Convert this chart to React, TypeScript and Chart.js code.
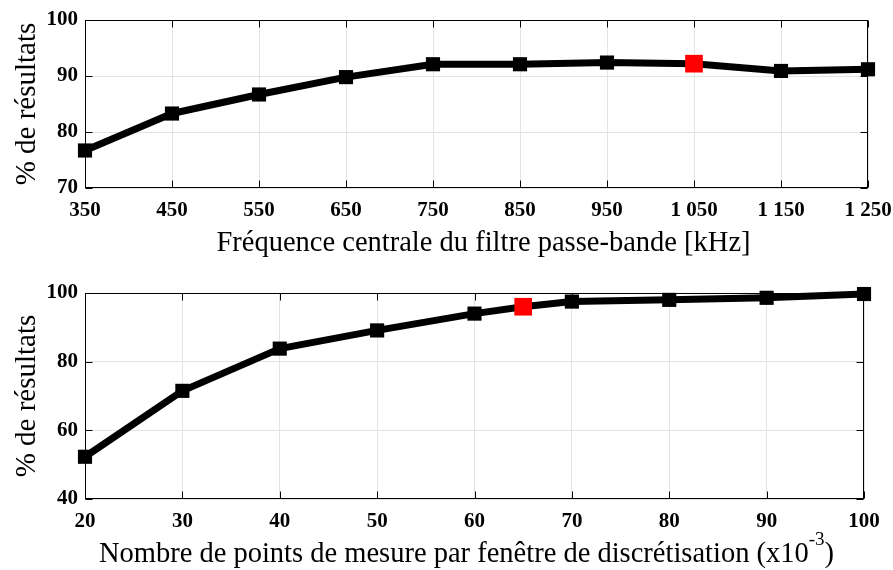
import React, { useEffect, useRef } from 'react';
import { Chart, registerables } from 'chart.js';

Chart.register(...registerables);

// ---------- data ----------
const freqKHz = [350, 450, 550, 650, 750, 850, 950, 1050, 1150, 1250];
const freqScore = [76.7, 83.3, 86.7, 89.8, 92.1, 92.1, 92.4, 92.2, 90.9, 91.2];
const freqHighlight = [1050];
const freqXTicks = [350, 450, 550, 650, 750, 850, 950, 1050, 1150, 1250];
const freqYTicks = [70, 80, 90, 100];
const freqXTitle = ['Fréquence centrale du filtre passe-bande [kHz]', '', ''];

const pointsX = [20, 30, 40, 50, 60, 65, 70, 80, 90, 100];
const pointsScore = [52.3, 71.5, 83.8, 89.1, 94.0, 96.0, 97.5, 98.0, 98.6, 99.7];
const pointsHighlight = [65];
const pointsXTicks = [20, 30, 40, 50, 60, 70, 80, 90, 100];
const pointsYTicks = [40, 60, 80, 100];
const pointsXTitle = ['Nombre de points de mesure par fenêtre de discrétisation (x10', '-3', ')'];

const yTitle = '% de résultats';

// ---------- styling ----------
const SERIF = "'Liberation Serif', 'Times New Roman', Times, serif";
const GRID = '#e4e4e4';

const fmtThousands = (v: number) =>
  String(v).replace(/\B(?=(\d{3})+(?!\d))/g, ' ');

const frameTicksPlugin = {
  id: 'frameTicks',
  beforeDatasetsDraw(chart: any) {
    const { ctx, chartArea: a, scales } = chart;
    const L = Math.round(a.left) + 0.5;
    const R = Math.round(a.right) - 0.5;
    const T = Math.round(a.top) + 0.5;
    const B = Math.round(a.bottom) - 0.5;
    const len = 7;
    ctx.save();
    ctx.strokeStyle = '#000';
    ctx.lineWidth = 1;
    ctx.beginPath();
    scales.x.ticks.forEach((t: any) => {
      const px = Math.round(scales.x.getPixelForValue(t.value)) + 0.5;
      ctx.moveTo(px, B);
      ctx.lineTo(px, B - len);
      ctx.moveTo(px, T);
      ctx.lineTo(px, T + len);
    });
    scales.y.ticks.forEach((t: any) => {
      const py = Math.round(scales.y.getPixelForValue(t.value)) + 0.5;
      ctx.moveTo(L, py);
      ctx.lineTo(L + len, py);
      ctx.moveTo(R, py);
      ctx.lineTo(R - len, py);
    });
    ctx.stroke();
    ctx.strokeRect(L, T, R - L, B - T);
    ctx.restore();
  },
};

function makeTitlePlugin(parts: string[], size: number, dx: number, baseline: number) {
  return {
    id: 'xTitleSup',
    afterDraw(chart: any) {
      const { ctx, chartArea: a } = chart;
      const mainFont = `${size}px ${SERIF}`;
      const supFont = `${Math.round(size * 0.68)}px ${SERIF}`;
      ctx.save();
      ctx.fillStyle = '#000';
      ctx.textBaseline = 'alphabetic';
      ctx.textAlign = 'left';
      ctx.font = mainFont;
      const w1 = ctx.measureText(parts[0]).width;
      const w3 = ctx.measureText(parts[2]).width;
      ctx.font = supFont;
      const w2 = parts[1] ? ctx.measureText(parts[1]).width : 0;
      const total = w1 + w2 + w3;
      const cx = (a.left + a.right) / 2 + dx;
      const x0 = cx - total / 2;
      ctx.font = mainFont;
      ctx.fillText(parts[0], x0, baseline);
      if (parts[1]) {
        ctx.font = supFont;
        ctx.fillText(parts[1], x0 + w1, baseline - size * 0.6);
      }
      if (parts[2]) {
        ctx.font = mainFont;
        ctx.fillText(parts[2], x0 + w1 + w2, baseline);
      }
      ctx.restore();
    },
  };
}

function buildConfig(opts: {
  xs: number[];
  ys: number[];
  highlight: number[];
  xTicks: number[];
  yTicks: number[];
  xMin: number;
  xMax: number;
  yMin: number;
  yMax: number;
  padTop: number;
  padRight: number;
  xAxisHeight: number;
  extraPlugins: any[];
}) {
  const data = opts.xs.map((x, i) => ({ x, y: opts.ys[i] }));
  const isHi = (x: number) => opts.highlight.includes(x);
  return {
    type: 'line',
    data: {
      datasets: [
        {
          data,
          borderColor: '#000',
          borderWidth: 7,
          tension: 0,
          borderJoinStyle: 'round',
          clip: false,
          pointStyle: 'rect',
          pointRadius: opts.xs.map((x) => (isHi(x) ? 12.5 : 10)),
          pointHoverRadius: opts.xs.map((x) => (isHi(x) ? 12.5 : 10)),
          pointBackgroundColor: opts.xs.map((x) => (isHi(x) ? '#ff0000' : '#000')),
          pointBorderColor: opts.xs.map((x) => (isHi(x) ? '#ff0000' : '#000')),
          pointBorderWidth: 0,
        },
      ],
    },
    options: {
      responsive: false,
      animation: false,
      events: [],
      layout: { padding: { top: opts.padTop, right: opts.padRight, left: 0, bottom: 0 } },
      plugins: { legend: { display: false }, tooltip: { enabled: false } },
      scales: {
        x: {
          type: 'linear',
          min: opts.xMin,
          max: opts.xMax,
          afterBuildTicks: (s: any) => {
            s.ticks = opts.xTicks.map((v) => ({ value: v }));
          },
          afterFit: (s: any) => {
            s.height = opts.xAxisHeight;
            s.paddingLeft = 0;
            s.paddingRight = 0;
          },
          grid: { color: GRID, lineWidth: 1, drawTicks: false },
          border: { display: false },
          ticks: {
            autoSkip: false,
            maxRotation: 0,
            padding: 10,
            color: '#000',
            font: { family: SERIF, size: 21, weight: 'bold' },
            callback: (v: any) => fmtThousands(Number(v)),
          },
        },
        y: {
          type: 'linear',
          min: opts.yMin,
          max: opts.yMax,
          afterBuildTicks: (s: any) => {
            s.ticks = opts.yTicks.map((v) => ({ value: v }));
          },
          afterFit: (s: any) => {
            s.width = 85;
            s.paddingTop = 0;
            s.paddingBottom = 0;
          },
          grid: { color: GRID, lineWidth: 1, drawTicks: false },
          border: { display: false },
          ticks: {
            padding: 7,
            color: '#000',
            font: { family: SERIF, size: 21, weight: 'bold' },
          },
          title: {
            display: true,
            text: yTitle,
            color: '#000',
            font: { family: SERIF, size: 29, lineHeight: 1 },
            padding: { top: 13, bottom: 0 },
          },
        },
      },
    },
    plugins: [frameTicksPlugin, ...opts.extraPlugins],
  } as any;
}

export default function App() {
  const topRef = useRef<HTMLCanvasElement | null>(null);
  const botRef = useRef<HTMLCanvasElement | null>(null);

  useEffect(() => {
    if (!topRef.current || !botRef.current) return;
    const top = new Chart(
      topRef.current,
      buildConfig({
        xs: freqKHz,
        ys: freqScore,
        highlight: freqHighlight,
        xTicks: freqXTicks,
        yTicks: freqYTicks,
        xMin: 350,
        xMax: 1250,
        yMin: 70,
        yMax: 100,
        padTop: 20,
        padRight: 25,
        xAxisHeight: 72,
        extraPlugins: [makeTitlePlugin(freqXTitle, 28.5, 7, 251)],
      })
    );
    const bot = new Chart(
      botRef.current,
      buildConfig({
        xs: pointsX,
        ys: pointsScore,
        highlight: pointsHighlight,
        xTicks: pointsXTicks,
        yTicks: pointsYTicks,
        xMin: 20,
        xMax: 100,
        yMin: 40,
        yMax: 100,
        padTop: 33,
        padRight: 29,
        xAxisHeight: 71,
        extraPlugins: [makeTitlePlugin(pointsXTitle, 28.5, -8, 302)],
      })
    );
    return () => {
      top.destroy();
      bot.destroy();
    };
  }, []);

  return (
    <div
      style={{
        position: 'absolute',
        left: 0,
        top: 0,
        width: 893,
        height: 570,
        background: '#fff',
        overflow: 'hidden',
      }}
    >
      <canvas ref={topRef} width={893} height={260} style={{ display: 'block' }} />
      <canvas ref={botRef} width={893} height={310} style={{ display: 'block' }} />
    </div>
  );
}
